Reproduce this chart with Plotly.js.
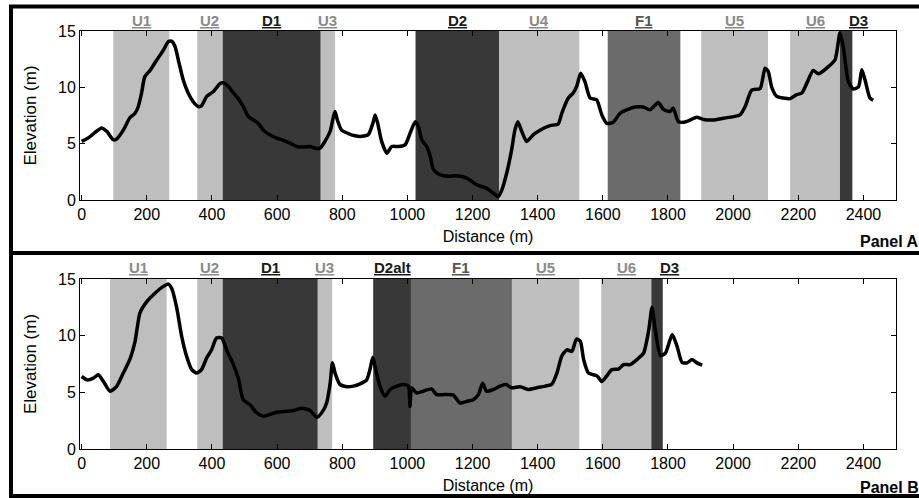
<!DOCTYPE html>
<html>
<head>
<meta charset="utf-8">
<script src="https://cdn.plot.ly/plotly-3.0.1.min.js"></script>
<style>html,body{margin:0;padding:0;background:#fff;}#chart{width:919px;height:498px;}</style>
</head>
<body>
<div id="chart"></div>
<script>
// ---------- Panel A data ----------
const distA = [0,20,46,61,77,97,107,128,148,164,174,184,194,210,230,251,266,276,287,297,312,327,343,358,368,384,404,425,435,450,466,481,496,512,527,542,558,578,599,619,640,660,681,701,716,732,747,763,773,778,785,798,819,839,860,880,894,901,909,921,937,952,972,993,1008,1024,1034,1044,1059,1070,1080,1100,1126,1151,1182,1213,1243,1264,1279,1290,1305,1320,1330,1339,1351,1366,1387,1407,1438,1463,1474,1494,1509,1520,1532,1545,1561,1581,1597,1612,1632,1653,1673,1699,1724,1745,1770,1786,1806,1816,1832,1847,1868,1888,1909,1939,1970,2001,2021,2037,2057,2083,2098,2108,2118,2134,2154,2175,2195,2211,2226,2246,2262,2287,2313,2328,2338,2354,2369,2385,2395,2405,2420,2430];
const elevA = [5.2,5.5,6.1,6.4,6.1,5.35,5.4,6.2,7.3,7.7,8.3,9.5,10.95,11.5,12.4,13.3,14.05,14.1,13.6,12.4,10.65,9.5,8.7,8.3,8.35,9.2,9.6,10.35,10.4,10.1,9.5,9.0,8.3,7.4,7.1,6.8,6.2,5.8,5.5,5.3,5.05,4.75,4.7,4.75,4.6,4.6,5.2,6.1,7.4,7.85,7.1,6.2,5.9,5.7,5.65,5.8,6.8,7.55,6.8,5.2,4.15,4.75,4.75,4.9,5.9,6.95,6.5,5.35,4.75,3.9,2.7,2.25,2.1,2.15,1.95,1.35,1.05,0.6,0.3,0.9,2.4,4.45,6.2,6.95,6.1,5.2,5.8,6.2,6.6,6.75,7.7,9.05,9.5,10.1,11.25,10.5,9.05,8.9,7.55,6.8,6.9,7.7,8.0,8.25,8.25,8.0,8.65,8.05,7.85,8.15,6.95,6.9,7.1,7.35,7.15,7.1,7.25,7.4,7.55,8.3,9.75,9.9,11.7,11.4,10.05,9.2,9.05,9.0,9.35,9.5,10.35,11.5,11.2,11.7,12.45,14.85,13.6,10.5,9.85,10.05,11.55,10.65,9.05,8.85];
const bandNamesA = ["U1","U2","D1","U3","D2","U4","F1","U5","U6","D3"];
const bandStartA = [97,355,433,734,1025,1282,1615,1902,2175,2328];
const bandEndA   = [269,433,734,778,1282,1528,1838,2107,2328,2366];

// ---------- Panel B data ----------
const distB = [0,17,36,51,67,87,107,128,148,164,179,200,225,251,266,276,292,307,322,338,353,368,384,399,414,430,445,466,481,496,517,537,558,578,599,619,650,675,701,722,737,752,763,770,778,793,814,834,855,875,885,894,904,916,931,947,967,988,1003,1008,1013,1028,1049,1074,1090,1115,1141,1162,1182,1202,1218,1231,1243,1264,1284,1303,1320,1346,1372,1397,1423,1443,1459,1474,1490,1505,1519,1531,1541,1556,1582,1597,1612,1628,1648,1664,1684,1705,1725,1741,1751,1761,1777,1792,1813,1828,1843,1859,1874,1889,1905];
const elevB = [6.4,6.1,6.25,6.55,5.95,5.1,5.5,6.7,7.9,9.5,12.0,13.0,13.75,14.35,14.55,14.2,12.45,9.95,8.2,7.0,6.7,7.0,8.05,8.75,9.8,9.8,8.75,7.45,6.25,4.35,3.9,3.2,2.9,3.05,3.25,3.3,3.4,3.6,3.4,2.8,3.2,4.05,5.8,7.6,6.7,5.7,5.5,5.55,5.75,6.1,7.0,8.1,6.85,5.55,4.65,5.25,5.55,5.7,5.55,3.75,5.4,4.95,5.1,5.3,4.8,4.8,4.75,4.05,4.2,4.35,4.8,5.8,5.1,5.25,5.55,5.7,5.4,5.5,5.25,5.4,5.55,5.7,6.7,8.2,8.75,8.6,9.7,9.5,7.9,6.7,6.45,5.95,6.45,7.0,7.05,7.45,7.45,7.9,8.45,10.5,12.5,10.5,8.25,8.45,10.1,9.05,7.65,7.6,7.9,7.6,7.4];
const bandNamesB = ["U1","U2","D1","U3","D2alt","F1","U5","U6","D3"];
const bandStartB = [87,355,433,725,895,1011,1321,1595,1749];
const bandEndB   = [261,433,725,769,1011,1321,1528,1749,1784];

const xTicks = [0,200,400,600,800,1000,1200,1400,1600,1800,2000,2200,2400];
const yTicks = [0,5,10,15];

// ---------- styling ----------
const fillFor = n => n[0]==="U" ? "#bebebe" : (n[0]==="F" ? "#6b6b6b" : "#383838");
const labelColorFor = n => n[0]==="U" ? "#8a8a8a" : (n[0]==="F" ? "#555555" : "#1a1a1a");
const labelShiftFor = n => n==="D3" ? 12 : 0;
const FONT = "Liberation Sans, Arial, Helvetica, sans-serif";

const shapes = [];
const annotations = [];
function addBands(names, starts, ends, xr, yr, labelY) {
  names.forEach((n, i) => {
    shapes.push({type:"rect", layer:"below", xref:xr, yref:yr+" domain",
      x0:starts[i], x1:ends[i], y0:0, y1:1, line:{width:0}, fillcolor:fillFor(n)});
    annotations.push({xref:xr, yref:yr+" domain", x:(starts[i]+ends[i])/2, y:labelY,
      xanchor:"center", yanchor:"middle", showarrow:false, xshift:labelShiftFor(n),
      text:"<b><u>"+n+"</u></b>", font:{family:FONT, size:15, color:labelColorFor(n)}});
  });
}
addBands(bandNamesA, bandStartA, bandEndA, "x", "y", 1.065);
addBands(bandNamesB, bandStartB, bandEndB, "x2", "y2", 1.07);

// frame (paper coords: l=80, plot width 816, paper height 498)
const px = v => (v-80)/816, py = v => 1 - v/498;
const frameLine = {color:"#000", width:4};
shapes.push({type:"rect", xref:"paper", yref:"paper", x0:px(11), x1:px(930), y0:py(496), y1:py(6.5), line:frameLine, fillcolor:"rgba(0,0,0,0)"});
shapes.push({type:"line", xref:"paper", yref:"paper", x0:px(11), x1:px(930), y0:py(253), y1:py(253), line:frameLine});

annotations.push({xref:"paper", yref:"paper", x:px(921), y:py(241), xanchor:"right", yanchor:"middle", showarrow:false, text:"<b>Panel A</b>", font:{family:FONT, size:16, color:"#000"}});
annotations.push({xref:"paper", yref:"paper", x:px(921), y:py(487), xanchor:"right", yanchor:"middle", showarrow:false, text:"<b>Panel B</b>", font:{family:FONT, size:16, color:"#000"}});

const xaxisBase = {range:[-5,2500], tickvals:xTicks, ticks:"inside", ticklen:5, tickcolor:"#000", mirror:"ticks",
  showline:true, linecolor:"#000", linewidth:1, showgrid:false, zeroline:false,
  tickfont:{family:FONT, size:16, color:"#000"},
  title:{text:"Distance (m)", font:{family:FONT, size:16, color:"#000"}, standoff:8}, automargin:false};
const yaxisBase = {range:[0,15], tickvals:yTicks, ticks:"inside", ticklen:5, tickcolor:"#000", mirror:"ticks",
  showline:true, linecolor:"#000", linewidth:1, showgrid:false, zeroline:false,
  tickfont:{family:FONT, size:16, color:"#000"},
  title:{text:"Elevation (m)", font:{family:FONT, size:17, color:"#000"}}, automargin:false};

const layout = {
  width:919, height:498,
  margin:{l:80, r:23, t:0, b:0},
  paper_bgcolor:"#fff", plot_bgcolor:"#fff",
  showlegend:false,
  xaxis:Object.assign({}, xaxisBase, {domain:[0,1], anchor:"y"}),
  yaxis:Object.assign({}, yaxisBase, {domain:[py(200), py(31)], anchor:"x"}),
  xaxis2:Object.assign({}, xaxisBase, {domain:[0,1], anchor:"y2"}),
  yaxis2:Object.assign({}, yaxisBase, {domain:[py(449), py(279)], anchor:"x2"}),
  shapes:shapes, annotations:annotations
};

const data = [
  {x:distA, y:elevA, xaxis:"x", yaxis:"y", type:"scatter", mode:"lines", line:{color:"#000", width:3.5, shape:"spline", smoothing:0.6}, hoverinfo:"skip"},
  {x:distB, y:elevB, xaxis:"x2", yaxis:"y2", type:"scatter", mode:"lines", line:{color:"#000", width:3.5, shape:"spline", smoothing:0.6}, hoverinfo:"skip"}
];

Plotly.newPlot("chart", data, layout, {staticPlot:true, displayModeBar:false});
</script>
</body>
</html>
